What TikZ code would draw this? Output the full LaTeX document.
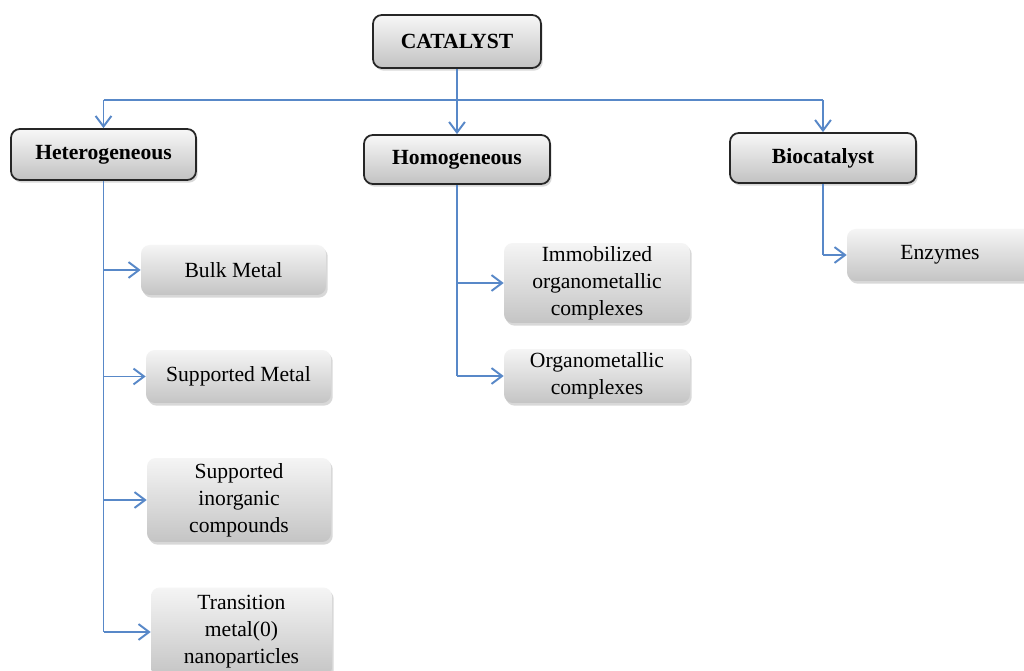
\documentclass[tikz,border=0pt]{standalone}
\usepackage{fontspec}
\setmainfont{Liberation Serif}
\usetikzlibrary{shadows,arrows.meta}
\definecolor{linkblue}{RGB}{88,136,200}
\tikzset{
  headbox/.style={draw=black!85, line width=1pt, rounded corners=5pt,
    top color=black!3, bottom color=black!24,
    drop shadow={shadow xshift=1pt, shadow yshift=-1.5pt, opacity=0.3},
    font=\fontsize{12.3}{15.3}\selectfont\bfseries, inner sep=0pt, align=center},
  leafbox/.style={rounded corners=5pt,
    top color=black!4, bottom color=black!23,
    drop shadow={shadow xshift=1pt, shadow yshift=-1.5pt, opacity=0.3},
    font=\fontsize{12.3}{15.3}\selectfont, inner sep=0pt, align=center},
  conn/.style={draw=linkblue, line width=1.1pt},
  arr/.style={conn, -{Straight Barb[length=6pt,width=9pt,line width=1.1pt]}}
}
\begin{document}
\begin{tikzpicture}[x=0.02cm,y=-0.02cm]
\clip (0,0) rectangle (1024,671);
\fill[white] (0,0) rectangle (1024,671);
% top level
\node[headbox, minimum width=3.36cm, minimum height=1.06cm] (cat) at (457,41.5) {CATALYST};
\node[headbox, minimum width=3.7cm, minimum height=1.02cm] (het) at (103.5,154.5) {Heterogeneous};
\node[headbox, minimum width=3.72cm, minimum height=0.98cm] (hom) at (457,159.5) {Homogeneous};
\node[headbox, minimum width=3.72cm, minimum height=1.0cm] (bio) at (823,158) {Biocatalyst};
% leaves
\node[leafbox, minimum width=3.7cm, minimum height=1.0cm] (bulk) at (233.5,270) {Bulk Metal};
\node[leafbox, minimum width=3.7cm, minimum height=1.06cm] (supm) at (238.5,376.5) {Supported Metal};
\node[leafbox, minimum width=3.68cm, minimum height=1.68cm] (supi) at (239,500) {Supported\\inorganic\\compounds};
\node[leafbox, minimum width=3.62cm, minimum height=1.78cm] (trans) at (241.5,632) {Transition\\metal(0)\\nanoparticles};
\node[leafbox, minimum width=3.72cm, minimum height=1.6cm] (immo) at (597,283) {Immobilized\\organometallic\\complexes};
\node[leafbox, minimum width=3.72cm, minimum height=1.08cm] (orga) at (597,376) {Organometallic\\complexes};
\node[leafbox, minimum width=3.72cm, minimum height=1.04cm] (enz) at (940,255) {Enzymes};
% bus
\coordinate (bus) at (457,100);
\draw[conn] (cat.south) -- (bus);
\draw[conn] (het.north |- bus) -- (bio.north |- bus);
\draw[arr] (het.north |- bus) -- (het.north);
\draw[arr] (bus) -- (hom.north);
\draw[arr] (bio.north |- bus) -- (bio.north);
% heterogeneous branch
\draw[conn] (het.south) -- (het.south |- trans.west);
\draw[arr] (het.south |- bulk.west) -- (bulk.west);
\draw[arr] (het.south |- supm.west) -- (supm.west);
\draw[arr] (het.south |- supi.west) -- (supi.west);
\draw[arr] (het.south |- trans.west) -- (trans.west);
% homogeneous branch
\draw[conn] (hom.south) -- (hom.south |- orga.west);
\draw[arr] (hom.south |- immo.west) -- (immo.west);
\draw[arr] (hom.south |- orga.west) -- (orga.west);
% biocatalyst branch
\draw[conn] (bio.south) -- (bio.south |- enz.west);
\draw[arr] (bio.south |- enz.west) -- (enz.west);
\end{tikzpicture}
\end{document}
